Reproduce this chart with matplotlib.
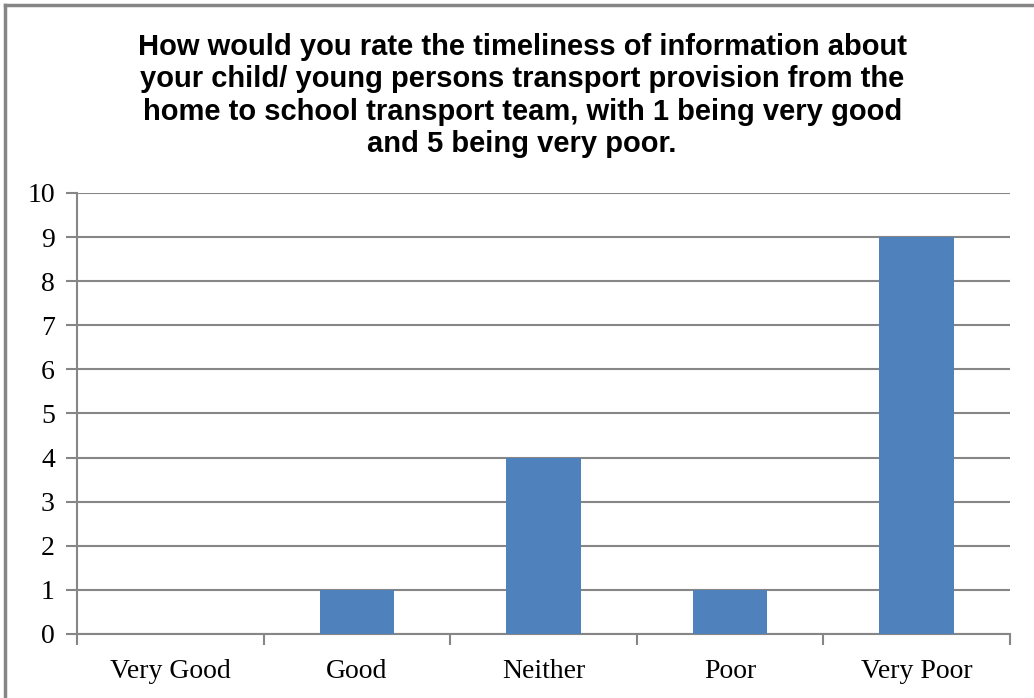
import matplotlib

matplotlib.use("Agg")
import matplotlib.pyplot as plt
from matplotlib.lines import Line2D
import numpy as np

categories = ["Very Good", "Good", "Neither", "Poor", "Very Poor"]
counts = [0, 1, 4, 1, 9]
y_ticks = list(range(0, 11))

title = ("How would you rate the timeliness of information about\n"
         "your child/ young persons transport provision from the\n"
         "home to school transport team, with 1 being very good\n"
         "and 5 being very poor.")

grey = "#868686"
bar_color = "#4F81BD"

fig = plt.figure(figsize=(10.34, 6.98), dpi=100)
fig.patch.set_facecolor("white")
ax = fig.add_axes([0.0745, 0.0917, 0.9023, 0.6318])

x = np.arange(len(categories))
ax.bar(x, counts, width=0.4, color=bar_color, zorder=3)

ax.set_xlim(-0.5, len(categories) - 0.5)
ax.set_ylim(0, 10)
ax.set_yticks(y_ticks)
ax.set_yticklabels([str(v) for v in y_ticks], family="Liberation Serif", fontsize=20)
ax.yaxis.grid(True, color=grey, linewidth=1.5, zorder=0)
ax.set_axisbelow(True)

# category labels centred, tick marks on the boundaries between them
ax.set_xticks(np.arange(-0.5, len(categories)), minor=False)
ax.set_xticklabels([])
ax.set_xticks(x, minor=True)
ax.set_xticklabels(categories, minor=True, family="Liberation Serif", fontsize=20)
ax.tick_params(axis="x", which="minor", length=0, pad=18)
ax.tick_params(axis="x", which="major", length=8, width=1.5, color=grey)
ax.tick_params(axis="y", length=8, width=1.5, color=grey, pad=8)

for side in ["top", "right"]:
    ax.spines[side].set_visible(False)
for side in ["left", "bottom"]:
    ax.spines[side].set_color(grey)
    ax.spines[side].set_linewidth(1.5)

fig.text(0.505, 0.953, title, ha="center", va="top", family="Liberation Sans",
         fontweight="bold", fontsize=21, linespacing=1.2)

# outer chart frame (only top and left edges fall inside the image)
fig.add_artist(Line2D([0.0053, 1.0], [0.9935, 0.9935], color=grey, linewidth=2.5,
                      transform=fig.transFigure))
fig.add_artist(Line2D([0.0053, 0.0053], [0.0, 0.9935], color=grey, linewidth=2.5,
                      transform=fig.transFigure))

fig.savefig("out.png", dpi=100, facecolor="white")
